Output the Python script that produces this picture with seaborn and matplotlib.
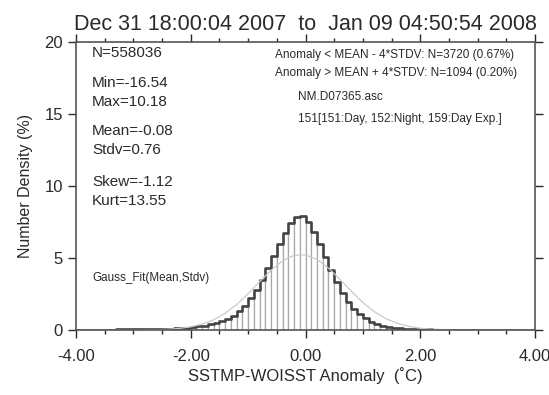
import numpy as np
import pandas as pd
import matplotlib
matplotlib.use("Agg")
import matplotlib.pyplot as plt
from matplotlib.ticker import MultipleLocator, FormatStrFormatter
import seaborn as sns

# histogram: 0.1-wide bins from -4 to 4, number density (%) per bin
bin_edges = [round(-4.0 + 0.1 * i, 2) for i in range(81)]
bin_centers = [round(e + 0.05, 2) for e in bin_edges[:-1]]
density_left = [0.02, 0.02, 0.02, 0.03, 0.03, 0.03, 0.03, 0.04, 0.04, 0.04,   # -3.95 .. -3.05
                0.05, 0.05, 0.06, 0.06, 0.07, 0.08, 0.09, 0.11, 0.13, 0.16,   # -2.95 .. -2.05
                0.20, 0.25, 0.31, 0.39, 0.47, 0.60, 0.78, 1.00, 1.30, 1.70,   # -1.95 .. -1.05
                2.20, 2.80, 3.50, 4.30, 5.15, 5.95, 6.75, 7.45, 7.85, 7.90]   # -0.95 .. -0.05
density_right = [7.50, 6.80, 6.00, 5.10, 4.20, 3.35, 2.60, 1.95, 1.45, 1.08,  # 0.05 .. 0.95
                 0.80, 0.58, 0.41, 0.29, 0.21, 0.15, 0.11, 0.08, 0.06, 0.05,  # 1.05 .. 1.95
                 0.04, 0.04, 0.03, 0.03, 0.03, 0.02, 0.02, 0.02, 0.02, 0.02,  # 2.05 .. 2.95
                 0.01, 0.01, 0.01, 0.01, 0.01, 0.01, 0.01, 0.01, 0.01, 0.01]  # 3.05 .. 3.95
density = density_left + density_right

# gauss fit curve
gauss_x = [-4.0, -3.0, -2.6, -2.4, -2.2, -2.0, -1.8, -1.6, -1.4, -1.2, -1.0, -0.8, -0.6, -0.4, -0.2,
           0.0, 0.2, 0.4, 0.6, 0.8, 1.0, 1.2, 1.4, 1.6, 1.8, 2.0, 2.2, 2.4, 2.6, 3.0, 4.0]
gauss_y = [0.0, 0.0, 0.02, 0.05, 0.11, 0.22, 0.41, 0.71, 1.16, 1.77, 2.52, 3.35, 4.15, 4.80, 5.19,
           5.22, 4.90, 4.30, 3.52, 2.69, 1.91, 1.27, 0.79, 0.46, 0.25, 0.12, 0.06, 0.03, 0.01, 0.0, 0.0]

title = "Dec 31 18:00:04 2007  to  Jan 09 04:50:54 2008"
stats_lines = [("N=558036", 53), ("Min=-16.54", 83), ("Max=10.18", 102),
               ("Mean=-0.08", 131), ("Stdv=0.76", 150), ("Skew=-1.12", 182), ("Kurt=13.55", 201)]
info_lines = [("Anomaly < MEAN - 4*STDV: N=3720 (0.67%)", 275, 55),
              ("Anomaly > MEAN + 4*STDV: N=1094 (0.20%)", 275, 73),
              ("NM.D07365.asc", 298, 97),
              ("151[151:Day, 152:Night, 159:Day Exp.]", 298, 119)]

df = pd.DataFrame({"anomaly": bin_centers, "density": density})
gdf = pd.DataFrame({"x": gauss_x, "y": gauss_y})

sns.set_style("ticks")
plt.rcParams["font.family"] = ["Liberation Sans", "DejaVu Sans"]
ink = "#2a2a2a"

W, H = 549, 395
fig = plt.figure(figsize=(W / 100, H / 100), dpi=100)
ax = fig.add_axes([76 / W, 1 - 330 / H, (535 - 76) / W, (330 - 42) / H])

sns.histplot(data=df, x="anomaly", weights="density", bins=bin_edges, ax=ax,
             color="white", edgecolor="#a8a8a8", linewidth=0.9, alpha=1)
sns.histplot(data=df, x="anomaly", weights="density", bins=bin_edges, ax=ax,
             element="step", fill=False, color="#444444", linewidth=1.9)
sns.lineplot(data=gdf, x="x", y="y", ax=ax, color="#cacaca", linewidth=0.9)

ax.set_xlim(-4, 4)
ax.set_ylim(0, 20)
ax.xaxis.set_major_locator(MultipleLocator(2))
ax.xaxis.set_minor_locator(MultipleLocator(0.5))
ax.xaxis.set_major_formatter(FormatStrFormatter("%.2f"))
ax.yaxis.set_major_locator(MultipleLocator(5))
ax.tick_params(axis="both", which="both", direction="out", colors=ink, labelsize=12,
               top=True, right=True, width=1)
ax.tick_params(axis="both", which="major", length=6)
ax.tick_params(axis="x", which="minor", length=3)
ax.tick_params(axis="x", pad=8)
for s in ax.spines.values():
    s.set_visible(True)
    s.set_color("#555555")
    s.set_linewidth(1.2)

ax.set_xlabel("SSTMP-WOISST Anomaly  (˚C)", fontsize=12, color=ink, labelpad=2)
ax.set_ylabel("Number Density (%)", fontsize=11.5, color=ink, labelpad=8)
ax.set_title(title, fontsize=15.5, color=ink, pad=9)

def px(x, y):
    return x / W, 1 - y / H

for txt, y in stats_lines:
    fig.text(*px(92, y), txt, fontsize=11, color=ink, va="center", ha="left")
for txt, x, y in info_lines:
    fig.text(*px(x, y), txt, fontsize=8.5, color=ink, va="center", ha="left")
fig.text(*px(92, 278), "Gauss_Fit(Mean,Stdv)", fontsize=8.4, color=ink, va="center", ha="left")

fig.savefig("out.png", dpi=100, facecolor="white")
